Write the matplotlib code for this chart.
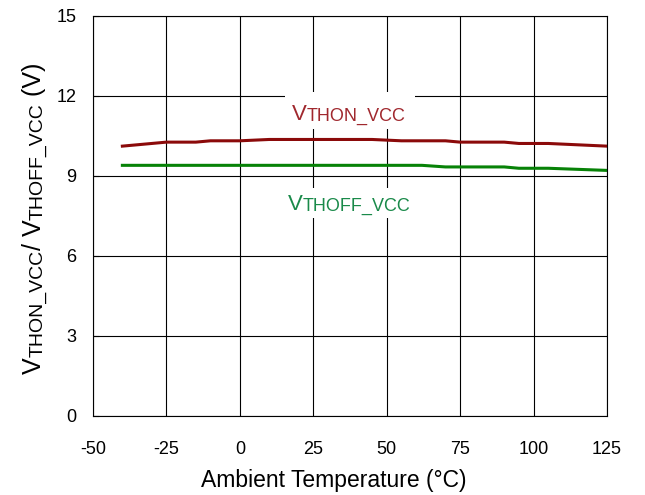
import matplotlib
matplotlib.use('Agg')
import matplotlib.pyplot as plt
from matplotlib.transforms import IdentityTransform

plt.rcParams['font.family'] = ['Liberation Sans', 'DejaVu Sans']
plt.rcParams['axes.unicode_minus'] = False

# data
temp_on = [-40, -30, -25, -15, -10, 0, 10, 45, 55, 70, 75, 90, 95, 105, 125]
v_thon = [10.12, 10.22, 10.27, 10.27, 10.32, 10.32, 10.37, 10.37, 10.32, 10.32,
          10.27, 10.27, 10.22, 10.22, 10.12]
temp_off = [-40, 0, 62, 70, 90, 95, 105, 125]
v_thoff = [9.40, 9.40, 9.40, 9.34, 9.34, 9.29, 9.29, 9.21]

xticks = [-50, -25, 0, 25, 50, 75, 100, 125]
yticks = [0, 3, 6, 9, 12, 15]

red_line = '#8b0a0a'
green_line = '#078207'
red_txt = '#a0282e'
green_txt = '#1a8a4a'

W, H = 645, 495
fig = plt.figure(figsize=(W/100, H/100), dpi=100)
ax = fig.add_axes([93/W, 1-416/H, 514/W, 400/H])

ax.plot(temp_on, v_thon, '-', color=red_line, lw=2.2, zorder=3)
ax.plot(temp_off, v_thoff, '-', color=green_line, lw=2.2, zorder=3)

ax.set_xlim(-50, 125)
ax.set_ylim(0, 15)
ax.set_xticks(xticks)
ax.set_yticks(yticks)
ax.grid(True, color='black', lw=0.8)
ax.set_axisbelow(True)
ax.tick_params(direction='in', length=4, labelsize=13)
ax.tick_params(axis='y', pad=12)
ax.tick_params(axis='x', length=0, pad=18)
for s in ax.spines.values():
    s.set_linewidth(0.8)

fig.canvas.draw()
rend = fig.canvas.get_renderer()


def rich(x, y, parts, color='black', rot=0):
    # parts: (text, size, drop in px); x, y = start of baseline in pixels (from top)
    y = H - y
    texts = []
    for s, size, drop in parts:
        if rot == 0:
            t = fig.text(x, y - drop, s, fontsize=size, color=color, ha='left',
                         va='baseline', transform=IdentityTransform(), zorder=5)
        else:
            t = fig.text(x + drop, y, s, fontsize=size, color=color, rotation=90,
                         rotation_mode='anchor', ha='left', va='baseline',
                         transform=IdentityTransform(), zorder=5)
        bb = t.get_window_extent(rend)
        if rot == 0:
            x += bb.width
        else:
            y += bb.height
        texts.append(t)
    return texts


def white_box(x0, y0, x1, y1):
    ax.add_patch(plt.Rectangle((x0, H - y1), x1 - x0, y1 - y0, transform=IdentityTransform(),
                               facecolor='white', edgecolor='none', zorder=1.5))


white_box(285, 92, 415, 129)
white_box(280, 188, 415, 218)
rich(292, 120, [('V', 16, 0), ('THON_VCC', 13, 1)], color=red_txt)
rich(288, 210, [('V', 16, 0), ('THOFF_VCC', 13, 1)], color=green_txt)

# y label built from pieces
rich(41, 374, [('V', 18, 0), ('THON_VCC', 14, 1), ('/ ', 18, 0), ('V', 18, 0),
               ('THOFF_VCC', 14, 1), (' (V)', 18, 0)], rot=90)

fig.text(334/W, 1-481/H, 'Ambient Temperature (°C)', fontsize=16.5, ha='center', va='center')

fig.savefig('out.png', dpi=100)
